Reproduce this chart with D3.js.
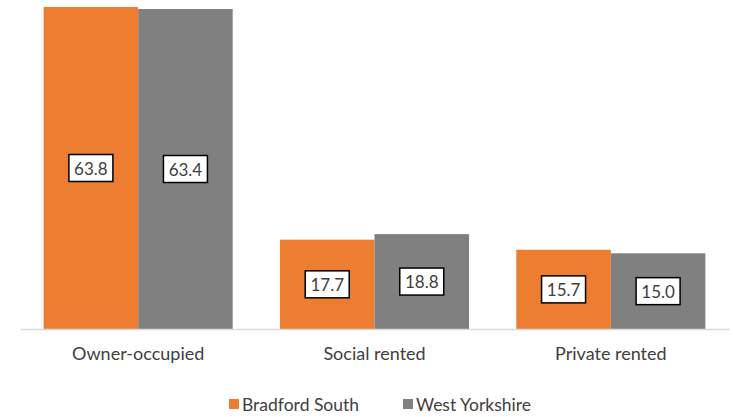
<!DOCTYPE html>
<html lang="en">
<head>
  <meta charset="UTF-8">
  <title>Tenure: Bradford South vs West Yorkshire</title>
  <script src="https://d3js.org/d3.v7.min.js"></script>
  <style>
    body { margin: 0; background: #fff; }
    svg { display: block; font-family: Lato, "Open Sans", sans-serif; }
  </style>
</head>
<body>
  <svg id="chart" width="733" height="417"></svg>
  <script>
    // Data (percent of households).
    const categories = ["Owner-occupied", "Social rented", "Private rented"];
    const seriesNames = ["Bradford South", "West Yorkshire"];
    const bradfordSouth = [63.8, 17.7, 15.7];
    const westYorkshire = [63.4, 18.8, 15.0];
    const colors = ["#ED7D31", "#808080"];

    const svg = d3.select("#chart");
    const baseY = 329, topY = 7;

    const rows = categories.map((c, i) => ({
      category: c,
      values: [bradfordSouth[i], westYorkshire[i]]
    }));

    const x0 = d3.scaleBand().domain(categories).range([20, 729])
      .paddingInner(0.2).paddingOuter(0.1);
    const x1 = d3.scaleBand().domain(seriesNames).range([0, x0.bandwidth()]);
    const y = d3.scaleLinear().domain([0, 63.8]).range([baseY, topY]);

    const groups = svg.selectAll("g.group").data(rows).join("g")
      .attr("class", "group")
      .attr("transform", d => `translate(${x0(d.category)},0)`);

    const cells = groups.selectAll("g.cell")
      .data(d => d.values.map((v, j) => ({ name: seriesNames[j], value: v, j })))
      .join("g").attr("class", "cell");

    cells.append("rect")
      .attr("x", d => x1(d.name))
      .attr("y", d => y(d.value))
      .attr("width", x1.bandwidth())
      .attr("height", d => baseY - y(d.value))
      .attr("fill", d => colors[d.j]);

    // Value labels in white boxes at bar middle
    cells.each(function(d) {
      const cell = d3.select(this);
      const cx = x1(d.name) + x1.bandwidth() / 2;
      const cy = (y(d.value) + baseY) / 2;
      cell.append("rect")
        .attr("x", cx - 22).attr("y", cy - 13.5)
        .attr("width", 44).attr("height", 27)
        .attr("fill", "#fff").attr("stroke", "#000").attr("stroke-width", 1.5);
      cell.append("text")
        .attr("x", cx).attr("y", cy)
        .attr("text-anchor", "middle").attr("dominant-baseline", "central")
        .attr("font-size", 17).attr("fill", "#404040")
        .text(d.value.toFixed(1));
    });

    // Baseline axis
    const xAxis = svg.append("g").attr("transform", `translate(0,${baseY})`)
      .call(d3.axisBottom(x0).tickSize(0).tickPadding(18));
    xAxis.select(".domain").attr("stroke", "#d9d9d9").attr("stroke-width", 1.5);
    xAxis.selectAll("text").attr("font-size", 18).attr("fill", "#404040")
      .attr("font-family", "Lato, 'Open Sans', sans-serif");

    // Legend
    const legendX = [229, 403];
    const legend = svg.append("g").selectAll("g").data(seriesNames).join("g")
      .attr("transform", (d, i) => `translate(${legendX[i]},404)`);
    legend.append("rect").attr("x", 0).attr("y", -5).attr("width", 10).attr("height", 10)
      .attr("fill", (d, i) => colors[i]);
    legend.append("text").attr("x", 13).attr("y", 0)
      .attr("dominant-baseline", "central")
      .attr("font-size", 17.5).attr("fill", "#404040")
      .text(d => d);
  </script>
</body>
</html>
